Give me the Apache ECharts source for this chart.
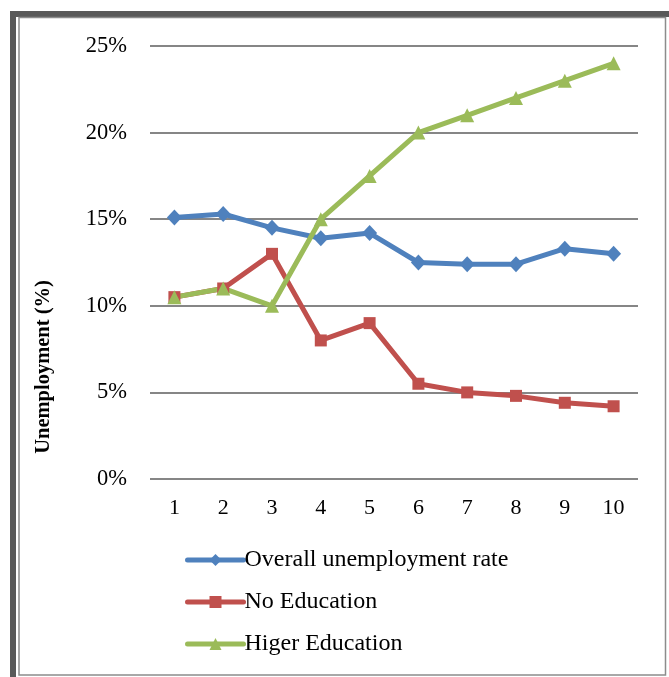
<!DOCTYPE html>
<html>
<head>
<meta charset="utf-8">
<style>
html,body{margin:0;padding:0;background:#fff;}
#c{width:669px;height:677px;}
</style>
<script src="https://cdn.jsdelivr.net/npm/echarts@6/dist/echarts.min.js"></script>
</head>
<body>
<div id="c"></div>
<script>
const categories = ['1','2','3','4','5','6','7','8','9','10'];
const overall = [15.1, 15.3, 14.5, 13.9, 14.2, 12.5, 12.4, 12.4, 13.3, 13.0];
const noEducation = [10.5, 11.0, 13.0, 8.0, 9.0, 5.5, 5.0, 4.8, 4.4, 4.2];
const higherEducation = [10.5, 11.0, 10.0, 15.0, 17.5, 20.0, 21.0, 22.0, 23.0, 24.0];
const seriesNames = ['Overall unemployment rate', 'No Education', 'Higer Education'];
const yAxisName = 'Unemployment (%)';

const FONT = "'Liberation Serif', 'Times New Roman', serif";
const chart = echarts.init(document.getElementById('c'), null, {renderer: 'canvas'});

function lineSeries(name, data, color, symbol, size) {
  return {
    name: name,
    type: 'line',
    data: data,
    symbol: symbol,
    symbolSize: size,
    showAllSymbol: true,
    lineStyle: {color: color, width: 5},
    itemStyle: {color: color},
    emphasis: {disabled: true},
    animation: false
  };
}

chart.setOption({
  animation: false,
  backgroundColor: '#fff',
  graphic: [
    {type: 'rect', silent: true, z: -10, shape: {x: 10, y: 11, width: 659, height: 666}, style: {fill: '#595959'}},
    {type: 'rect', silent: true, z: -9, shape: {x: 16, y: 17, width: 653, height: 660}, style: {fill: '#fff'}},
    {type: 'rect', silent: true, z: -8, shape: {x: 19, y: 17.5, width: 646.5, height: 657.5}, style: {fill: 'none', stroke: '#8c8c8c', lineWidth: 1.5}},
    {type: 'text', silent: true, x: 44, y: 367, rotation: Math.PI / 2,
      style: {text: yAxisName, fontFamily: FONT, fontSize: 20.5, fontWeight: 'bold', fill: '#000', align: 'center', verticalAlign: 'middle'}}
  ],
  grid: {left: 150, right: 31, top: 46, bottom: 198, containLabel: false},
  legend: {
    orient: 'vertical',
    left: 180,
    top: 543,
    itemWidth: 56,
    itemHeight: 15,
    itemGap: 18,
    lineStyle: {width: 5, cap: 'round'},
    textStyle: {fontFamily: FONT, fontSize: 24, color: '#000', padding: [0, 0, 0, -4]},
    data: seriesNames
  },
  xAxis: {
    type: 'category',
    data: categories,
    boundaryGap: true,
    axisLine: {show: false},
    axisTick: {show: false},
    axisLabel: {fontFamily: FONT, fontSize: 22, color: '#000', margin: 18}
  },
  yAxis: {
    type: 'value',
    min: 0,
    max: 25,
    interval: 5,
    axisLine: {show: false},
    axisTick: {show: false},
    splitLine: {lineStyle: {color: '#868686', width: 2}},
    axisLabel: {fontFamily: FONT, fontSize: 22.5, color: '#000', margin: 23, formatter: '{value}%'}
  },
  series: [
    lineSeries(seriesNames[0], overall, '#4F81BD', 'diamond', [15, 16]),
    lineSeries(seriesNames[1], noEducation, '#C0504D', 'rect', 12),
    lineSeries(seriesNames[2], higherEducation, '#9BBB59', 'triangle', 14)
  ]
});
</script>
</body>
</html>
